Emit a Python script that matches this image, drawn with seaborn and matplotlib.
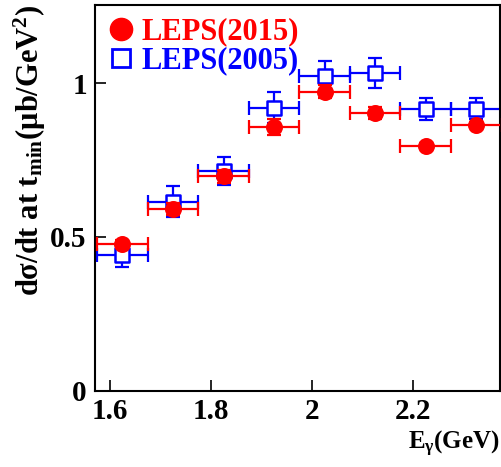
import numpy as np
import pandas as pd
import matplotlib
matplotlib.use("Agg")
import matplotlib.pyplot as plt
import seaborn as sns
from matplotlib.lines import Line2D

# Data
egamma = [1.625, 1.725, 1.825, 1.925, 2.025, 2.125, 2.225, 2.325]
bin_half = [0.05] * 8
leps2015 = [0.477, 0.590, 0.697, 0.857, 0.972, 0.902, 0.797, 0.864]
leps2015_err = [0.012, 0.020, 0.022, 0.026, 0.022, 0.019, 0.008, 0.010]
leps2005 = [0.442, 0.615, 0.715, 0.920, 1.022, 1.033, 0.915, 0.917]
leps2005_err = [0.040, 0.050, 0.045, 0.050, 0.050, 0.048, 0.035, 0.035]
series_names = ["LEPS(2015)", "LEPS(2005)"]
xticks = [1.6, 1.8, 2.0, 2.2]
xtick_labels = ["1.6", "1.8", "2", "2.2"]
yticks = [0, 0.5, 1]
ytick_labels = ["0", "0.5", "1"]

sns.set_style("ticks")
plt.rcParams['font.family'] = ['Liberation Serif', 'DejaVu Serif']
plt.rcParams['mathtext.fontset'] = 'custom'
plt.rcParams['mathtext.rm'] = 'Liberation Serif:bold'
plt.rcParams['mathtext.it'] = 'Liberation Serif:bold'
plt.rcParams['mathtext.bf'] = 'Liberation Serif:bold'
plt.rcParams['text.color'] = 'black'
plt.rcParams['axes.labelcolor'] = 'black'
plt.rcParams['xtick.color'] = 'black'
plt.rcParams['ytick.color'] = 'black'

fig = plt.figure(figsize=(5.01, 4.67), dpi=100)
ax = fig.add_axes([0.19, 0.163, 0.808, 0.826])

red = "#ff0000"
blue = "#0000ff"

df05 = pd.DataFrame({"E": egamma, "v": leps2005, "s": series_names[1]})
df15 = pd.DataFrame({"E": egamma, "v": leps2015, "s": series_names[0]})

ax.errorbar(egamma, leps2005, xerr=bin_half, yerr=leps2005_err, fmt='none',
            ecolor=blue, elinewidth=1.6, capsize=5, capthick=1.6, zorder=2)
sns.scatterplot(data=df05, x="E", y="v", marker="s", s=110, facecolor="white",
                edgecolor=blue, linewidth=1.8, ax=ax, zorder=3, legend=False)
ax.errorbar(egamma, leps2015, xerr=bin_half, yerr=leps2015_err, fmt='none',
            ecolor=red, elinewidth=1.6, capsize=5, capthick=1.6, zorder=4)
sns.scatterplot(data=df15, x="E", y="v", marker="o", s=150, color=red,
                edgecolor=red, linewidth=0, ax=ax, zorder=5, legend=False)

ax.set_xlim(1.571, 2.372)
ax.set_ylim(0, 1.253)
ax.set_xticks(xticks)
ax.set_xticklabels(xtick_labels)
ax.set_yticks(yticks)
ax.set_yticklabels(ytick_labels)
ax.tick_params(direction='in', length=8, width=1.2, labelsize=21, colors='black')
ax.tick_params(axis='x', pad=5)
ax.tick_params(axis='y', pad=6)
for lab in ax.get_xticklabels() + ax.get_yticklabels():
    lab.set_fontweight('bold')
for sp in ax.spines.values():
    sp.set_linewidth(1.5)
    sp.set_color('black')

ax.set_xlabel(r"E$_{\gamma}$(GeV)", fontsize=18, fontweight='bold', loc='right', labelpad=3)
ax.set_ylabel(r"d$\sigma$/dt at t$_{\rm min}$($\mu$b/GeV$^{2}$)", fontsize=22,
              fontweight='bold', loc='top', labelpad=2)

# Legend
handles = [Line2D([], [], marker='o', color=red, linestyle='none', markersize=16),
           Line2D([], [], marker='s', markerfacecolor='white', markeredgecolor=blue,
                  markeredgewidth=2.0, linestyle='none', markersize=13)]
leg = ax.legend(handles, series_names, loc='upper left', frameon=False,
                prop={'size': 22, 'weight': 'bold'}, handletextpad=0.2,
                borderaxespad=0.0, labelspacing=0.0, handlelength=0.9,
                bbox_to_anchor=(0.0, 1.0))
for t, c in zip(leg.get_texts(), [red, blue]):
    t.set_color(c)

fig.savefig("out.png", dpi=100)
